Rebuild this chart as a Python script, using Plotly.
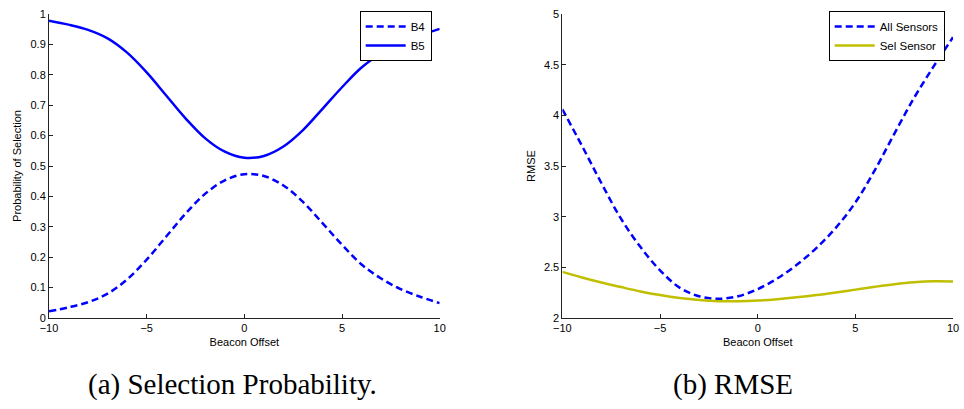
import plotly.graph_objects as go

# ---- data ----
offset = [-10, -9, -8, -7, -6, -5, -4, -3, -2, -1, 0, 1, 2, 3, 4, 5, 6, 7, 8, 9, 10]

b5 = [0.978, 0.965, 0.948, 0.920, 0.873, 0.808, 0.732, 0.656, 0.591, 0.547, 0.527,
      0.533, 0.564, 0.618, 0.688, 0.759, 0.824, 0.870, 0.905, 0.930, 0.951]
b4 = [0.022, 0.035, 0.052, 0.080, 0.127, 0.192, 0.268, 0.344, 0.409, 0.453, 0.473,
      0.467, 0.436, 0.382, 0.312, 0.241, 0.176, 0.130, 0.095, 0.070, 0.049]

all_sensors = [4.06, 3.70, 3.33, 2.98, 2.70, 2.47, 2.30, 2.215, 2.19, 2.215, 2.285,
               2.39, 2.525, 2.69, 2.89, 3.14, 3.46, 3.82, 4.17, 4.48, 4.77]
sel_sensor = [2.455, 2.40, 2.35, 2.305, 2.262, 2.226, 2.197, 2.177, 2.166, 2.165, 2.172,
              2.186, 2.204, 2.226, 2.252, 2.28, 2.308, 2.333, 2.352, 2.362, 2.36]

x_ticks = [-10, -5, 0, 5, 10]
left_yticks = [0, 0.1, 0.2, 0.3, 0.4, 0.5, 0.6, 0.7, 0.8, 0.9, 1]
right_yticks = [2, 2.5, 3, 3.5, 4, 4.5, 5]

BLUE = "#0000FF"
YELLOW = "#BFBF00"
DASH = "7px,4px"
W = 2.5

fig = go.Figure()
fig.add_trace(go.Scatter(x=offset, y=b4, name="B4", mode="lines",
                         line=dict(color=BLUE, width=W, dash=DASH, shape="spline", smoothing=1.0),
                         xaxis="x", yaxis="y", legend="legend"))
fig.add_trace(go.Scatter(x=offset, y=b5, name="B5", mode="lines",
                         line=dict(color=BLUE, width=W, shape="spline", smoothing=1.0),
                         xaxis="x", yaxis="y", legend="legend"))
fig.add_trace(go.Scatter(x=offset, y=all_sensors, name="All Sensors", mode="lines",
                         line=dict(color=BLUE, width=W, dash=DASH, shape="spline", smoothing=1.0),
                         xaxis="x2", yaxis="y2", legend="legend2"))
fig.add_trace(go.Scatter(x=offset, y=sel_sensor, name="Sel Sensor", mode="lines",
                         line=dict(color=YELLOW, width=W, shape="spline", smoothing=1.0),
                         xaxis="x2", yaxis="y2", legend="legend2"))

FW, FH = 964, 409
ML, MR, MT, MB = 49.3, 10.7, 11, 91
PW, PH = FW - ML - MR, FH - MT - MB

def dx(p):  # pixel x -> plot-area fraction
    return (p - ML) / PW
def dy(p):  # pixel y -> plot-area fraction
    return (FH - MB - p) / PH

tickfont = dict(family="Liberation Sans, Arial, sans-serif", size=11, color="black")
legfont = dict(family="Liberation Sans, Arial, sans-serif", size=11.5, color="black")
titlefont = dict(family="Liberation Sans, Arial, sans-serif", size=11, color="black")

axis_common = dict(showgrid=False, zeroline=False, showline=True, linecolor="#222222", linewidth=1,
                   ticks="inside", ticklen=4, tickcolor="#222222", tickfont=tickfont, mirror=False,
                   automargin=False)

fig.update_layout(
    width=FW, height=FH,
    margin=dict(l=ML, r=MR, t=MT, b=MB),
    paper_bgcolor="white", plot_bgcolor="white",
    xaxis=dict(domain=[0, dx(440)], range=[-10, 10], tickvals=x_ticks, anchor="y",
               title=dict(text="Beacon Offset", font=titlefont, standoff=5), **axis_common),
    yaxis=dict(domain=[0, 1], range=[0, 1], tickvals=left_yticks, anchor="x",
               title=dict(text="Probability of Selection", font=titlefont, standoff=6), **axis_common),
    xaxis2=dict(domain=[dx(562.7), 1], range=[-10, 10], tickvals=x_ticks, anchor="y2",
                title=dict(text="Beacon Offset", font=titlefont, standoff=5), **axis_common),
    yaxis2=dict(domain=[0, 1], range=[2, 5], tickvals=right_yticks, anchor="x2",
                title=dict(text="RMSE", font=titlefont, standoff=6), **axis_common),
    legend=dict(x=dx(432), y=dy(8), xanchor="right", yanchor="top", bgcolor="white",
                bordercolor="black", borderwidth=1, font=legfont, tracegroupgap=0,
                itemwidth=40),
    legend2=dict(x=dx(945), y=dy(8), xanchor="right", yanchor="top", bgcolor="white",
                 bordercolor="black", borderwidth=1, font=legfont, tracegroupgap=0,
                 itemwidth=40),
    showlegend=True,
)

capfont = dict(family="Liberation Serif, DejaVu Serif, serif", size=29, color="black")
fig.add_annotation(text="(a) Selection Probability.", x=dx(233), y=dy(385), xref="paper", yref="paper",
                   showarrow=False, font=capfont, xanchor="center", yanchor="middle")
fig.add_annotation(text="(b) RMSE", x=dx(733), y=dy(385), xref="paper", yref="paper",
                   showarrow=False, font=capfont, xanchor="center", yanchor="middle")

fig.write_html("out.html")
